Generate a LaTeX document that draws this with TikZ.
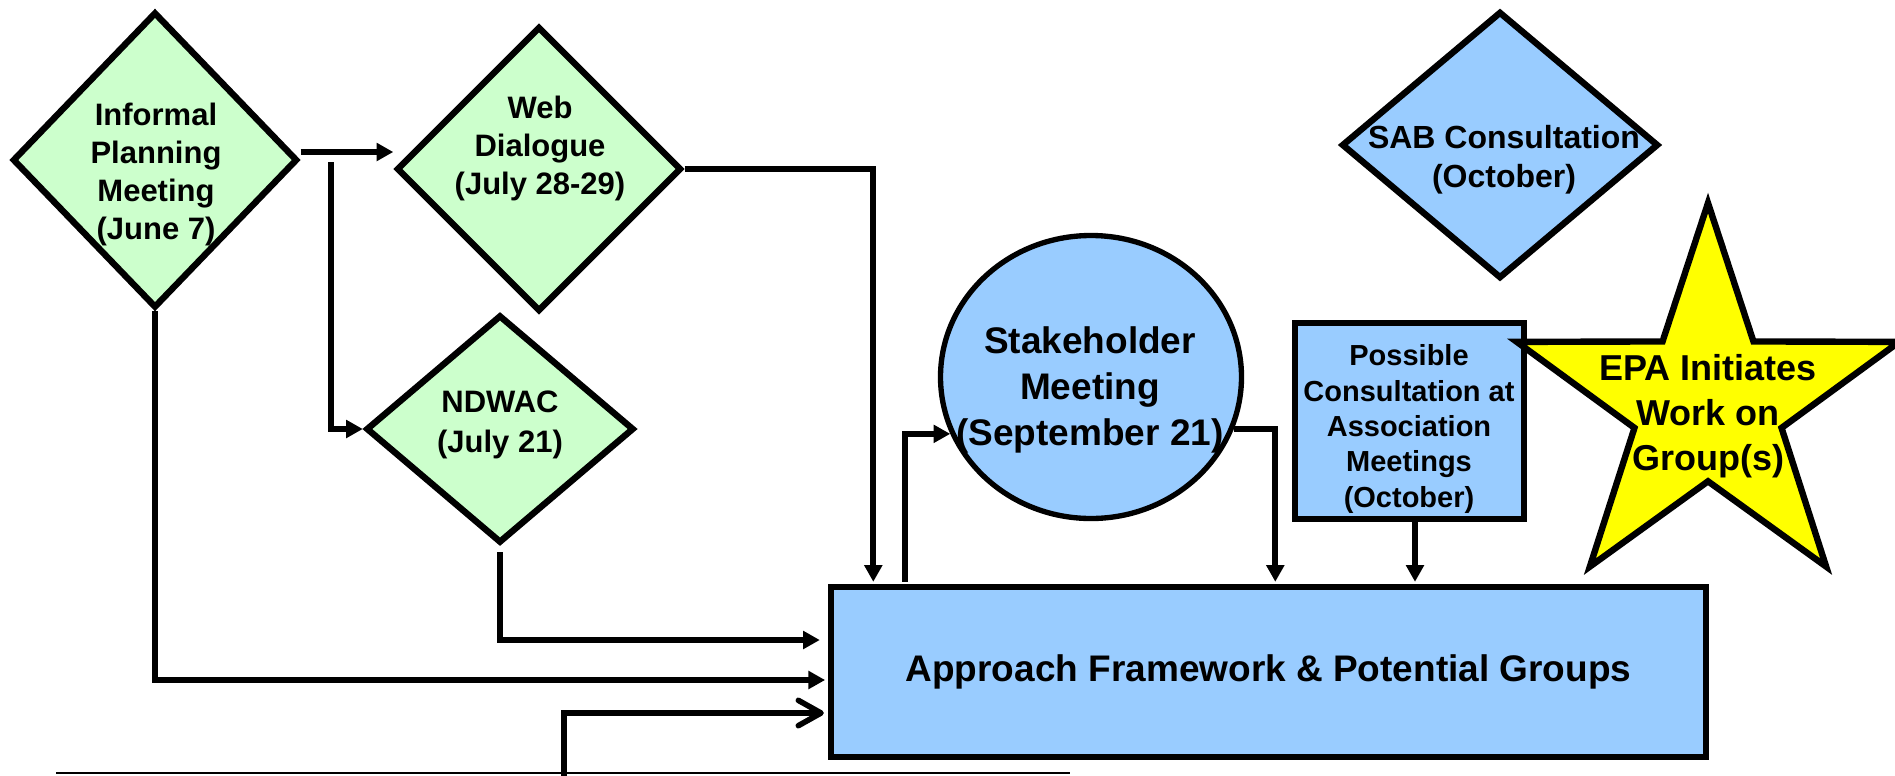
\documentclass[tikz,border=0pt]{standalone}
\usepackage{fontspec}
\setmainfont{Liberation Sans}
\usetikzlibrary{shapes.geometric,arrows.meta,calc}
\definecolor{mintfill}{RGB}{204,255,204}
\definecolor{skyfill}{RGB}{153,204,255}
\definecolor{starfill}{RGB}{255,255,0}

\begin{document}
\begin{tikzpicture}[x=0.75pt,y=-0.75pt,
  outline/.style={draw=black,line width=4.8pt,inner sep=0pt,line join=miter},
  greendia/.style={outline,diamond,fill=mintfill},
  bluedia/.style={outline,diamond,fill=skyfill},
  bluebox/.style={outline,rectangle,fill=skyfill},
  lbl/.style={align=center,inner sep=0pt,font=\bfseries\fontsize{23.25pt}{28.5pt}\selectfont},
  conn/.style={line width=4.4pt,-{Triangle[length=12.5pt,width=13pt]}},
  openconn/.style={line width=4.2pt,-{Straight Barb[length=17pt,width=19pt,round]}},
]
\useasboundingbox (0,0) rectangle (1895,775);

% ---- early consultations (green diamonds)
\node[greendia,minimum width=285*0.75pt,minimum height=296*0.75pt] (ipm) at (155,160) {};
\node[lbl] (ipm-t) at (156,174) {Informal\\Planning\\Meeting\\(June 7)};

\node[greendia,minimum width=285*0.75pt,minimum height=285*0.75pt] (web) at (539,169) {};
\node[lbl] (web-t) at (540,148) {Web\\Dialogue\\(July 28-29)};

\node[greendia,minimum width=268*0.75pt,minimum height=228*0.75pt] (nd) at (500,429) {};
\node[lbl,font=\bfseries\fontsize{23.25pt}{30pt}\selectfont] (nd-t) at (500,425) {NDWAC\\(July 21)};

% ---- later consultations (blue)
\node[bluedia,minimum width=317*0.75pt,minimum height=267*0.75pt] (sab) at (1500,145) {};
\node[lbl,font=\bfseries\fontsize{24pt}{29.25pt}\selectfont] (sab-t) at (1504,160) {SAB Consultation\\(October)};

\node[outline,ellipse,fill=skyfill,line width=4pt,minimum width=301*0.75pt,minimum height=283*0.75pt] (stk) at (1091,377) {};
\node[lbl,font=\bfseries\fontsize{27.75pt}{34.5pt}\selectfont] (stk-t) at (1090,390) {Stakeholder\\Meeting\\(September 21)};

\node[bluebox,minimum width=229*0.75pt,minimum height=196*0.75pt] (pcb) at (1409.5,421) {};
\node[lbl,font=\bfseries\fontsize{21.75pt}{26.6pt}\selectfont] (pcb-t) at (1409,429) {Possible\\Consultation at\\Association\\Meetings\\(October)};

% ---- outcome box
\node[bluebox,minimum width=875*0.75pt,minimum height=170*0.75pt,
      font=\bfseries\fontsize{27.75pt}{33pt}\selectfont] (main) at (1268.5,672) {Approach Framework \& Potential Groups};

% ---- EPA star, drawn over the consultation box
\node[outline,star,star points=5,star point ratio=2.6,minimum size=402*0.75pt,fill=starfill] (epa) at (1708,404) {};
\node[lbl,font=\bfseries\fontsize{27pt}{33.75pt}\selectfont] (epa-t) at (1708,416) {EPA Initiates\\Work on\\Group(s)};

% ---- connectors
\draw[conn] ($(ipm.east)+(0,-8)$) coordinate (ipm-out) -- (ipm-out -| web.west);
\coordinate (fork) at (331,162);
\draw[conn] (fork) |- (nd.west);
\draw[conn,shorten >=2pt] (ipm.south) |- ($(main.west)+(0,8)$);
\draw[conn,shorten <=4.5pt,shorten >=6pt] (nd.south) |- ($(main.west)+(0,-32)$);
\draw[conn,shorten >=1.5pt] (web.east) -| ($(main.north west)+(45.5,0)$);
\draw[conn] ($(main.north west)+(77,-2)$) |- (stk.202);
\draw[conn,shorten >=1.5pt] (stk.340) -| ($(main.north west)+(447.5,0)$);
\draw[conn,shorten >=1.5pt] ($(pcb.south)+(5.5,0)$) coordinate (pcb-out) -- (pcb-out |- main.north);
\coordinate (feed) at (564,790);
\draw[openconn,shorten >=3pt] (feed) |- ($(main.west)+(0,41)$);

% ---- rule along the foot
\coordinate (rule-l) at (56,773);
\coordinate (rule-r) at (1070,773);
\draw[line width=1.5pt] (rule-l) -- (rule-r);
\end{tikzpicture}
\end{document}
